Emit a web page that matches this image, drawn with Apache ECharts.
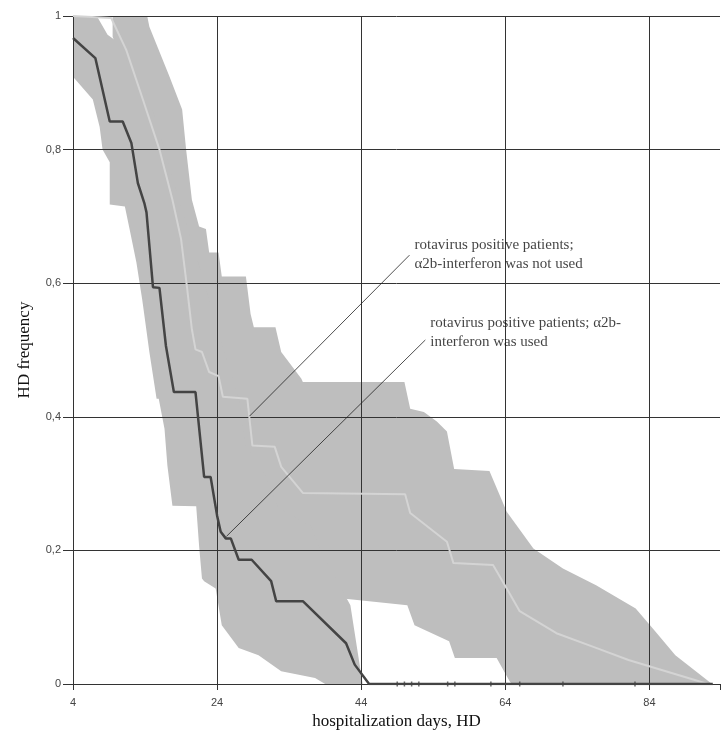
<!DOCTYPE html>
<html><head><meta charset="utf-8">
<script src="https://cdn.jsdelivr.net/npm/echarts@6/dist/echarts.min.js"></script>
<style>html,body{margin:0;padding:0;background:#fff}#c{width:723px;height:735px}</style>
</head><body><div id="c"></div>
<script>
// ---- data (x = hospitalization day, y = HD frequency) ----
const DAY0 = 4;
const DAY_MAX = 93.8;
const xTickDays = [4, 24, 44, 64, 84];
const yTicks = [0, 0.2, 0.4, 0.6, 0.8, 1];

// rotavirus positive, α2b-interferon used (dark curve)
const usedCurve = [[4.0,0.967],[7.1,0.937],[9.1,0.842],[10.9,0.842],[12.1,0.810],[13.0,0.750],[13.9,0.720],[14.2,0.706],[15.1,0.594],[16.0,0.593],[16.9,0.506],[18.0,0.437],[21.0,0.437],[22.2,0.310],[23.1,0.310],[24.0,0.252],[24.5,0.228],[25.2,0.218],[25.9,0.218],[27.0,0.186],[28.8,0.186],[31.5,0.154],[32.2,0.124],[35.9,0.124],[41.9,0.061],[43.1,0.029],[45.1,0],[92.8,0]];
const usedUpper = [[4.0,1.0],[7.3,1.0],[8.8,0.972],[9.8,0.964],[14.6,0.875],[16.7,0.800],[18.7,0.725],[20.8,0.651],[22.9,0.576],[24.9,0.501],[27.0,0.427],[28.0,0.357],[30.7,0.312],[32.5,0.263],[37.0,0.237],[38.4,0.199],[42.5,0.118],[44.2,0]];
const usedLower = [[4.0,0.909],[6.75,0.875],[7.7,0.834],[8.1,0.800],[9.1,0.781],[9.1,0.718],[11.2,0.715],[11.85,0.681],[12.8,0.631],[13.6,0.576],[14.6,0.497],[15.6,0.427],[15.9,0.427],[16.7,0.382],[17.1,0.327],[17.8,0.267],[21.1,0.266],[21.5,0.207],[21.9,0.158],[22.2,0.154],[23.8,0.143],[24.65,0.088],[27.0,0.054],[29.75,0.043],[32.9,0.019],[37.6,0.009],[39.0,0],[44.2,0]];

// rotavirus positive, α2b-interferon not used (light curve)
const notUsedCurve = [[4,1],[9.3,0.997],[11.4,0.949],[13.7,0.875],[16.0,0.800],[17.8,0.725],[19.0,0.666],[19.8,0.596],[20.5,0.531],[21.0,0.501],[21.9,0.497],[22.9,0.467],[24.2,0.461],[24.8,0.430],[28.2,0.427],[28.9,0.357],[32.0,0.355],[32.9,0.325],[35.9,0.286],[50.1,0.284],[50.8,0.256],[55.9,0.213],[56.8,0.181],[62.3,0.178],[64.2,0.143],[66.0,0.109],[71.1,0.076],[76.6,0.054],[81.1,0.036],[85.7,0.021],[90.3,0.006],[92.1,0]];
const notUsedUpper = [[9.5,1.0],[14.3,1.0],[14.6,0.984],[17.4,0.909],[19.15,0.860],[19.7,0.800],[20.5,0.725],[21.5,0.685],[22.45,0.681],[22.9,0.646],[24.2,0.646],[24.65,0.610],[28.0,0.610],[28.65,0.554],[29.1,0.534],[32.1,0.534],[32.9,0.497],[35.7,0.457],[35.9,0.452],[50.0,0.452],[50.8,0.412],[52.7,0.407],[54.5,0.393],[55.9,0.378],[56.9,0.322],[61.8,0.319],[64.2,0.258],[67.9,0.203],[72.0,0.173],[76.6,0.148],[82.1,0.113],[84.8,0.079],[87.6,0.043],[92.7,0]];
const notUsedLower = [[9.5,1.0],[9.5,0.969],[10.2,0.949],[11.6,0.875],[12.95,0.800],[14.6,0.725],[16.25,0.651],[18.0,0.576],[20.1,0.501],[22.2,0.427],[24.65,0.382],[25.2,0.293],[25.6,0.163],[41.45,0.128],[50.4,0.118],[51.4,0.088],[56.2,0.064],[57.0,0.039],[62.8,0.039],[64.6,0.004],[64.9,0],[92.7,0]];

// censored observations on the zero line
const censorDays = [49, 50, 51, 52, 56, 57, 62, 66, 72, 82];

const labelNotUsed = 'rotavirus positive patients;\nα2b-interferon was not used';
const labelUsed = 'rotavirus positive patients; α2b-\ninterferon was used';
// pointer: [point on curve, label anchor]
const pointerNotUsed = [[28.5,0.401],[50.7,0.642]];
const pointerUsed = [[25.3,0.221],[52.9,0.515]];

// ---- chart ----
const sh = p => [p[0] - DAY0, p[1]];
const BAND = '#bebebe';

function band(upper, lower, z) {
  const pts = upper.concat(lower.slice().reverse()).map(sh);
  return {
    type: 'custom', coordinateSystem: 'cartesian2d', silent: true, z: z,
    data: [[0, 0]],
    renderItem: (params, api) => ({
      type: 'polygon',
      shape: { points: pts.map(p => api.coord(p)) },
      style: { fill: BAND, stroke: null }
    })
  };
}

const serifFont = '"Liberation Serif","Times New Roman",serif';
const sansFont = '"Liberation Sans",Arial,sans-serif';

const chart = echarts.init(document.getElementById('c'), null, {renderer: 'canvas'});
chart.setOption({
  animation: false,
  backgroundColor: '#fff',
  grid: { left: 73, right: -3, top: 16, bottom: 49, containLabel: false },
  xAxis: {
    type: 'value', min: 0, max: DAY_MAX - DAY0, interval: 20,
    name: 'hospitalization days, HD', nameLocation: 'middle', nameGap: 29,
    nameTextStyle: { fontFamily: serifFont, fontSize: 17, color: '#111' },
    axisLine: { show: true, lineStyle: { color: '#333', width: 1 } },
    axisTick: { show: true, length: 6, lineStyle: { color: '#333' } },
    axisLabel: {
      fontFamily: sansFont, fontSize: 11, color: '#444', margin: 13,
      formatter: v => xTickDays.includes(Math.round(v + DAY0)) && Math.abs(v % 20) < 1e-6 ? String(Math.round(v + DAY0)) : ''
    },
    splitLine: { show: true, showMaxLine: false, lineStyle: { color: '#333', width: 1 } }
  },
  yAxis: {
    type: 'value', min: 0, max: 1, interval: 0.2,
    name: 'HD frequency', nameLocation: 'middle', nameGap: 40,
    nameTextStyle: { fontFamily: serifFont, fontSize: 17, color: '#111' },
    axisLine: { show: true, lineStyle: { color: '#333', width: 1 } },
    axisTick: { show: true, length: 10, lineStyle: { color: '#333' } },
    axisLabel: {
      fontFamily: sansFont, fontSize: 11, color: '#444', margin: 12,
      formatter: v => yTicks.some(t => Math.abs(t - v) < 1e-6) ? String(+v.toFixed(1)).replace('.', ',') : ''
    },
    splitLine: { show: true, lineStyle: { color: '#333', width: 1 } }
  },
  series: [
    band(notUsedUpper, notUsedLower, -2),
    band(usedUpper, usedLower, -1),
    {
      type: 'line', name: 'not used', data: notUsedCurve.map(sh), symbol: 'none', z: 3,
      lineStyle: { color: '#d4d4d4', width: 2 }
    },
    {
      type: 'line', name: 'used', data: usedCurve.map(sh), symbol: 'none', z: 4,
      lineStyle: { color: '#444', width: 2.5 }
    },
    {
      type: 'scatter', name: 'censored', data: censorDays.map(d => sh([d, 0])), z: 5,
      symbol: 'rect', symbolSize: [1.5, 5], itemStyle: { color: '#444' }
    },
    {
      type: 'lines', coordinateSystem: 'cartesian2d', z: 6, silent: true,
      data: [
        { coords: pointerNotUsed.map(sh) },
        { coords: pointerUsed.map(sh) }
      ],
      lineStyle: { color: '#222', width: 0.8, opacity: 1 }
    },
    {
      type: 'scatter', z: 7, silent: true, symbolSize: 0,
      data: [
        { value: sh(pointerNotUsed[1]), label: { formatter: labelNotUsed, offset: [0, -1] } },
        { value: sh(pointerUsed[1]), label: { formatter: labelUsed, offset: [0, -7] } }
      ],
      label: {
        show: true, position: 'right', distance: 5, align: 'left', verticalAlign: 'middle',
        fontFamily: serifFont, fontSize: 15, lineHeight: 19, color: '#111'
      }
    }
  ]
});
</script>
</body></html>
